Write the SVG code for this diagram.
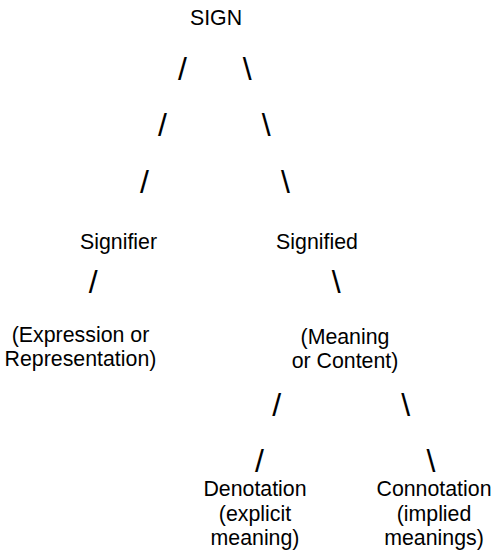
<svg xmlns="http://www.w3.org/2000/svg" width="492" height="558" viewBox="0 0 492 558">
<style>
text{font-family:"Liberation Sans",Arial,sans-serif;fill:#000;text-anchor:middle}
.t{font-size:21.33px}
.s{font-size:32px}
</style>
<rect width="492" height="558" fill="#fff"/>
<g id="connectors" class="s">
<text x="182.5" y="80">/</text>
<text x="247.2" y="80">\</text>
<text x="162.5" y="136">/</text>
<text x="266.3" y="136">\</text>
<text x="144.5" y="192.5">/</text>
<text x="285.5" y="192.5">\</text>
<text x="93.3" y="293">/</text>
<text x="336.2" y="293">\</text>
<text x="276.7" y="416">/</text>
<text x="405.8" y="416">\</text>
<text x="259.5" y="471.5">/</text>
<text x="431" y="471.5">\</text>
</g>
<g id="sign" class="t"><text x="216" y="24.5">SIGN</text></g>
<g id="signifier" class="t"><text x="118.5" y="248.5">Signifier</text></g>
<g id="signified" class="t"><text x="317" y="248.5">Signified</text></g>
<g id="expression" class="t"><text x="80.5" y="341.5">(Expression or</text><text x="80.5" y="366">Representation)</text></g>
<g id="meaning" class="t"><text x="345" y="343.5">(Meaning</text><text x="345" y="368">or Content)</text></g>
<g id="denotation" class="t"><text x="255" y="496">Denotation</text><text x="255" y="520.5">(explicit</text><text x="255" y="545">meaning)</text></g>
<g id="connotation" class="t"><text x="434" y="496">Connotation</text><text x="434" y="520.5">(implied</text><text x="434" y="545">meanings)</text></g>
</svg>
